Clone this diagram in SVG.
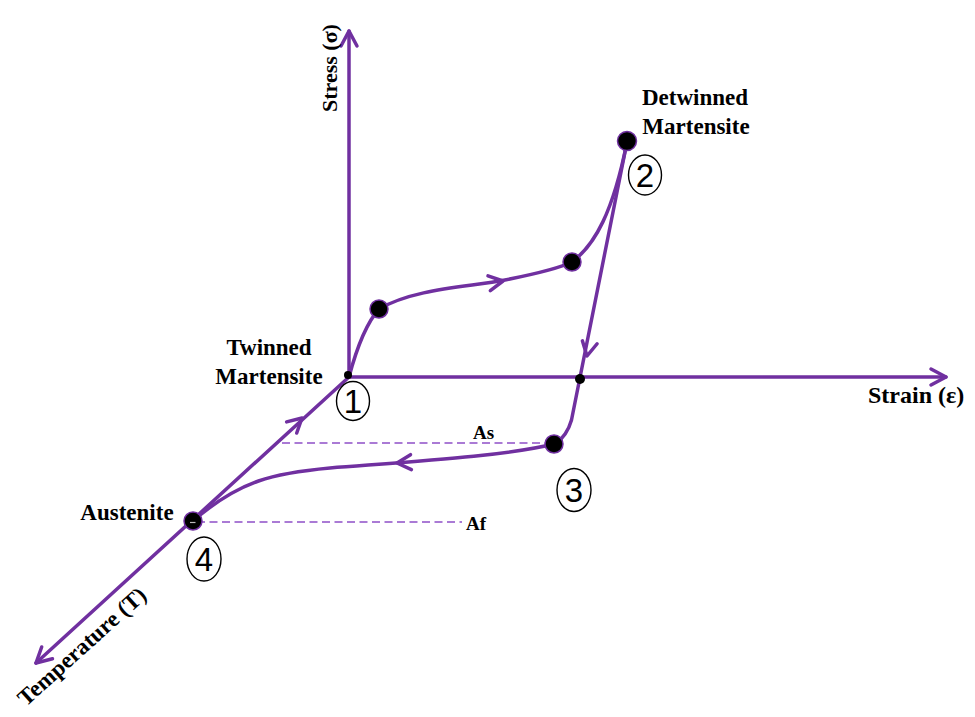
<svg xmlns="http://www.w3.org/2000/svg" xmlns:xlink="http://www.w3.org/1999/xlink" width="975" height="717" viewBox="0 0 975 717">
  <style>
    .ln { fill: none; stroke: #7030A0; stroke-width: 3.5; stroke-linecap: round; stroke-linejoin: round; }
    .dash { fill: none; stroke: #8F4FC8; stroke-width: 1.7; stroke-dasharray: 8 4.5; }
    .dot { fill: #000; stroke: #7030A0; stroke-width: 1.5; }
    .sdot { fill: #000; }
    .lbl { font-family: "Liberation Serif", "Times New Roman", serif; font-weight: bold; font-size: 23px; fill: #000; }
    .num { font-family: "Liberation Sans", Arial, sans-serif; font-size: 33px; fill: #000; text-anchor: middle; }
    .circ { fill: #fff; stroke: #000; stroke-width: 1.4; }
  </style>
  <defs>
    <path id="chev" d="M-15,-8 L0,0 L-15,8" class="ln"/>
    <path id="chevs" d="M-14,-7.5 L0,0 L-14,7.5" class="ln"/>
  </defs>
  <rect width="975" height="717" fill="#fff"/>

  <g id="connectors">
    <!-- axes -->
    <line class="ln" x1="349" y1="377" x2="349" y2="31"/>
    <use xlink:href="#chev" transform="translate(349,31) rotate(-90)"/>
    <line class="ln" x1="349" y1="377" x2="946" y2="377"/>
    <use xlink:href="#chev" transform="translate(946,377)"/>
    <line class="ln" x1="349" y1="377" x2="36" y2="663"/>
    <use xlink:href="#chev" transform="translate(36,663) rotate(137.6)"/>
    <!-- 4 -> 1 -->
    <use xlink:href="#chevs" transform="translate(302,418) rotate(-42.4)"/>
    <!-- 1 -> 2 -->
    <path class="ln" d="M349,377 Q362,328 379,309"/>
    <path class="ln" d="M379,309 C415,288 470,287 505,280 C540,273 560,268 572,262"/>
    <use xlink:href="#chevs" transform="translate(503,281) rotate(-9)"/>
    <path class="ln" d="M572,262 C595,245 613,212 627,142"/>
    <!-- 2 -> 3 -->
    <path class="ln" d="M627,142 L571.5,420 Q567,436 555,444"/>
    <use xlink:href="#chevs" transform="translate(587,356) rotate(101.3)"/>
    <!-- 3 -> 4 -->
    <path class="ln" d="M554,444 C505,456 420,461 330,468 C275,473 240,480 193,521"/>
    <use xlink:href="#chevs" transform="translate(397,463) rotate(176.5)"/>
    <!-- temperature guides -->
    <line class="dash" x1="282" y1="443" x2="548" y2="443"/>
    <line class="dash" x1="197" y1="522" x2="462" y2="522"/>
  </g>

  <g id="axis-labels">
    <text class="lbl" transform="translate(337,112) rotate(-90)" style="font-size:22px">Stress (σ)</text>
    <text class="lbl" x="868" y="403" style="font-size:24px">Strain (ε)</text>
    <text class="lbl" text-anchor="middle" transform="translate(87,652) rotate(-42)">Temperature (T)</text>
    <text class="lbl" x="473" y="439" style="font-size:19px">As</text>
    <text class="lbl" x="466" y="530" style="font-size:19px">Af</text>
  </g>

  <g id="node-1">
    <circle class="sdot" cx="348" cy="375" r="4"/>
    <text class="lbl" x="269" y="355" text-anchor="middle">Twinned</text>
    <text class="lbl" x="269" y="384" text-anchor="middle">Martensite</text>
    <ellipse class="circ" cx="353" cy="401" rx="16.5" ry="19.5"/>
    <text class="num" x="353" y="413">1</text>
  </g>

  <g id="node-a">
    <circle class="dot" cx="379" cy="309" r="9"/>
  </g>
  <g id="node-b">
    <circle class="dot" cx="572" cy="262" r="9"/>
  </g>

  <g id="node-2">
    <circle class="dot" cx="627" cy="141" r="9.5"/>
    <text class="lbl" x="695" y="105" text-anchor="middle">Detwinned</text>
    <text class="lbl" x="696" y="134" text-anchor="middle">Martensite</text>
    <ellipse class="circ" cx="645" cy="175" rx="16.5" ry="20"/>
    <text class="num" x="645" y="187">2</text>
  </g>

  <g id="node-c">
    <circle class="sdot" cx="580" cy="379" r="5"/>
  </g>

  <g id="node-3">
    <circle class="dot" cx="554" cy="444" r="9"/>
    <ellipse class="circ" cx="574" cy="490" rx="17" ry="21.5"/>
    <text class="num" x="574" y="502">3</text>
  </g>

  <g id="node-4">
    <circle class="dot" cx="193" cy="521" r="9"/>
    <line x1="190" y1="522.5" x2="195.5" y2="522.5" stroke="#bbb" stroke-width="1.2"/>
    <text class="lbl" x="127" y="520" text-anchor="middle">Austenite</text>
    <ellipse class="circ" cx="204" cy="559" rx="17" ry="22"/>
    <text class="num" x="204" y="571">4</text>
  </g>
</svg>
